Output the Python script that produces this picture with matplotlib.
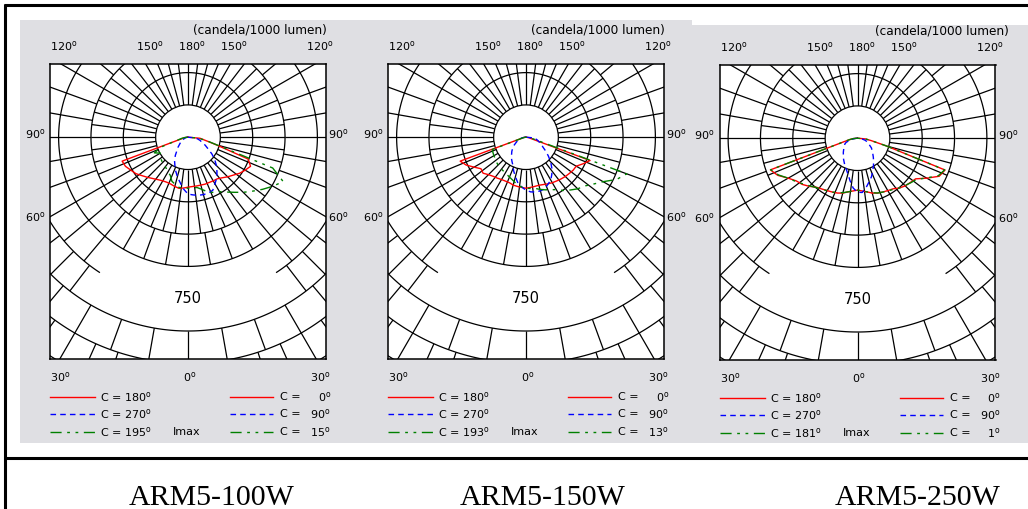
import numpy as np
import matplotlib.pyplot as plt
from matplotlib.collections import LineCollection
from matplotlib.patches import Rectangle, Circle

plt.rcParams['font.family'] = 'DejaVu Sans'

# gamma angles (deg from nadir) for all curves
gamma = np.arange(0, 91, 5)

# luminous intensity, cd/1000 lm
p1_c180 = [232, 237, 241, 237, 232, 231, 234, 241, 251, 264, 278, 295, 306, 320, 325, 37, 19, 9, 0]
p1_c0 = [232, 230, 230, 230, 232, 232, 234, 236, 246, 260, 274, 292, 306, 320, 297, 135, 79, 56, 0]
p1_c270 = [264, 241, 213, 190, 167, 144, 125, 102, 79, 65, 51, 42, 32, 23, 19, 14, 9, 5, 0]
p1_c90 = [264, 269, 274, 276, 276, 272, 250, 232, 209, 186, 162, 135, 107, 88, 70, 58, 46, 28, 0]
p1_cmax_l = [237, 237, 237, 227, 218, 195, 186, 176, 172, 167, 162, 158, 148, 172, 130, 46, 28, 14, 0]
p1_cmax_r = [237, 237, 237, 251, 271, 283, 292, 311, 334, 362, 390, 422, 455, 487, 418, 139, 84, 46, 0]

p2_c180 = [237, 234, 232, 230, 225, 225, 227, 232, 237, 246, 260, 255, 278, 306, 325, 23, 14, 5, 0]
p2_c0 = [237, 234, 232, 231, 234, 239, 244, 248, 253, 258, 262, 267, 269, 292, 316, 23, 14, 5, 0]
p2_c270 = [246, 232, 216, 190, 167, 144, 130, 118, 104, 93, 81, 70, 56, 46, 37, 28, 19, 9, 0]
p2_c90 = [251, 255, 258, 258, 255, 241, 230, 209, 186, 162, 135, 111, 90, 79, 65, 56, 46, 42, 0]
p2_cmax_l = [237, 232, 226, 213, 204, 197, 193, 188, 186, 183, 179, 174, 172, 169, 167, 23, 14, 5, 0]
p2_cmax_r = [237, 239, 241, 251, 260, 269, 281, 302, 320, 339, 353, 380, 413, 464, 497, 46, 23, 9, 0]

p3_c180 = [241, 246, 253, 264, 271, 276, 281, 288, 297, 316, 334, 346, 371, 408, 430, 70, 37, 19, 0]
p3_c0 = [241, 246, 253, 264, 271, 276, 281, 287, 302, 313, 320, 329, 371, 418, 432, 139, 65, 37, 0]
p3_c270 = [251, 232, 200, 172, 153, 139, 125, 114, 102, 93, 84, 77, 70, 65, 56, 37, 23, 9, 0]
p3_c90 = [251, 253, 232, 209, 190, 167, 148, 130, 114, 100, 88, 79, 65, 56, 46, 37, 23, 9, 0]
p3_cmax_l = [241, 246, 253, 262, 269, 276, 281, 290, 299, 313, 330, 350, 371, 404, 428, 70, 37, 19, 0]
p3_cmax_r = [241, 246, 253, 262, 271, 276, 283, 290, 302, 311, 322, 334, 369, 413, 430, 139, 65, 37, 0]

models = ["ARM5-100W", "ARM5-150W", "ARM5-250W"]
imax_planes = [(195, 15), (193, 13), (181, 1)]
ring_step = 150
scale_label = 750

panels = [
    (p1_c180, p1_c0, p1_c270, p1_c90, p1_cmax_l, p1_cmax_r),
    (p2_c180, p2_c0, p2_c270, p2_c90, p2_cmax_l, p2_cmax_r),
    (p3_c180, p3_c0, p3_c270, p3_c90, p3_cmax_l, p3_cmax_r),
]

W, H = 1028, 509
fig = plt.figure(figsize=(W / 100, H / 100), dpi=100)
bg = fig.add_axes([0, 0, 1, 1])
bg.set_xlim(0, W)
bg.set_ylim(H, 0)
bg.axis('off')

GRAY = '#dfdfe3'
bg.add_patch(Rectangle((20, 20), 672, 423, color=GRAY, lw=0))
bg.add_patch(Rectangle((692, 25), 336, 418, color=GRAY, lw=0))

# outer table frame
bg.plot([4, W], [5, 5], color='k', lw=2.2, solid_capstyle='butt')
bg.plot([5, 5], [4, H], color='k', lw=2.2, solid_capstyle='butt')
bg.plot([4, W], [458, 458], color='k', lw=2.2, solid_capstyle='butt')

centers = [(188, 137), (526, 137), (857.5, 138)]
title_shift = [0, 0, 12]
caption_x = [212, 543, 918]

XL, XR, YB, YT = -640, 640, -1030, 340
BOX_W, BOX_H = 276, 295

RED, BLUE, GREEN = '#ff0000', '#0000ff', '#008000'
LS_BLUE = (0, (4, 3))
LS_GREEN = (0, (8, 4, 2, 4, 2, 4))


def deg(n):
    return f"{n}$^{{\\mathregular{{o}}}}$"


def spoke(segs, g, r0, r1):
    s, c = np.sin(np.radians(g)), np.cos(np.radians(g))
    segs.append([(r0 * s, -r0 * c), (r1 * s, -r1 * c)])


def draw_grid(ax):
    segs = []
    # concentric rings, ring 5 is broken under the scale value
    for k in range(2, 10):
        r = k * ring_step
        if k == 5:
            t = np.radians(np.linspace(33, 327, 400))
        else:
            t = np.radians(np.linspace(0, 360, 721))
        segs.append(np.column_stack([r * np.sin(t), -r * np.cos(t)]))
    # radial spokes, density changes from band to band
    bands = [(1, 3, 7.5), (3, 5, 10), (5, 6, 7.5), (6, 7, 10), (7, 10, 6)]
    for k0, k1, step in bands:
        for g in np.arange(0, 360, step):
            gg = (g + 180) % 360 - 180
            if abs(gg) < 33 and k1 > 4 and k0 < 6:
                if k0 < 4:
                    spoke(segs, g, k0 * ring_step, 4 * ring_step)
                continue
            spoke(segs, g, k0 * ring_step, k1 * ring_step)
    ax.add_collection(LineCollection(segs, colors='k', linewidths=0.9))
    ax.add_patch(Circle((0, 0), ring_step, fc='white', ec='k', lw=0.9, zorder=3))


def half_plane(vals, side):
    g = np.radians(gamma)
    v = np.asarray(vals, float)
    return side * v * np.sin(g), -v * np.cos(g)


for i, (data, (cx, cy)) in enumerate(zip(panels, centers)):
    x0 = cx - BOX_W / 2
    y0 = cy - 73
    ax = fig.add_axes([x0 / W, 1 - (y0 + BOX_H) / H, BOX_W / W, BOX_H / H])
    ax.set_xlim(XL, XR)
    ax.set_ylim(YB, YT)
    ax.set_xticks([])
    ax.set_yticks([])
    ax.set_facecolor('white')
    for sp in ax.spines.values():
        sp.set_linewidth(1.1)
    draw_grid(ax)
    ax.text(0, -scale_label, str(scale_label), ha='center', va='center',
            fontsize=10.5, zorder=5,
            bbox=dict(fc='white', ec='none', pad=1))

    c180, c0, c270, c90, cml, cmr = data
    styles = [
        (c180, c0, dict(color=RED, lw=1.0, ls='-')),
        (c270, c90, dict(color=BLUE, lw=1.0, ls=LS_BLUE)),
        (cml, cmr, dict(color=GREEN, lw=1.0, ls=LS_GREEN)),
    ]
    for left, right, st in styles:
        lx, ly = half_plane(left, -1)
        rx, ry = half_plane(right, 1)
        xs = np.concatenate([lx[::-1], rx[1:]])
        ys = np.concatenate([ly[::-1], ry[1:]])
        ax.plot(xs, ys, zorder=4, **st)

    fs = 8
    dy = cy - 137
    bg.text(cx + 139 + title_shift[i], 30 + dy, "(candela/1000 lumen)",
            ha='right', va='center', fontsize=8.7)
    for off, n in [(-128, 120), (-42, 150), (0, 180), (42, 150), (128, 120)]:
        bg.text(cx + off - 10, 46 + dy, deg(n), ha='left', va='center', fontsize=fs)
    for yy, n in [(134, 90), (217, 60)]:
        bg.text(cx - 163, yy + dy, deg(n), ha='left', va='center', fontsize=fs)
        bg.text(cx + 140, yy + dy, deg(n), ha='left', va='center', fontsize=fs)
    bg.text(cx - 138, 377 + dy, deg(30), ha='left', va='center', fontsize=fs)
    bg.text(cx - 5, 377 + dy, deg(0), ha='left', va='center', fontsize=fs)
    bg.text(cx + 122, 377 + dy, deg(30), ha='left', va='center', fontsize=fs)

    # legend block
    cl, cr = imax_planes[i]
    rows = [397 + dy, 414 + dy, 432 + dy]
    legend = [
        (RED, '-', 180, 0),
        (BLUE, LS_BLUE, 270, 90),
        (GREEN, LS_GREEN, cl, cr),
    ]
    for yy, (col, ls, nl, nr) in zip(rows, legend):
        bg.plot([cx - 138, cx - 93], [yy, yy], color=col, ls=ls, lw=1.0)
        bg.text(cx - 88, yy, "C = " + deg(nl), ha='left', va='center', fontsize=fs)
        bg.plot([cx + 42, cx + 85], [yy, yy], color=col, ls=ls, lw=1.0)
        bg.text(cx + 92, yy, "C =", ha='left', va='center', fontsize=fs)
        bg.text(cx + 143, yy, deg(nr), ha='right', va='center', fontsize=fs)
    bg.text(cx - 15, rows[2], "Imax", ha='left', va='center', fontsize=fs)

    bg.text(caption_x[i], 505, models[i], ha='center', va='baseline',
            fontsize=21.5, family='Liberation Serif')

fig.savefig('out.png', dpi=100)
